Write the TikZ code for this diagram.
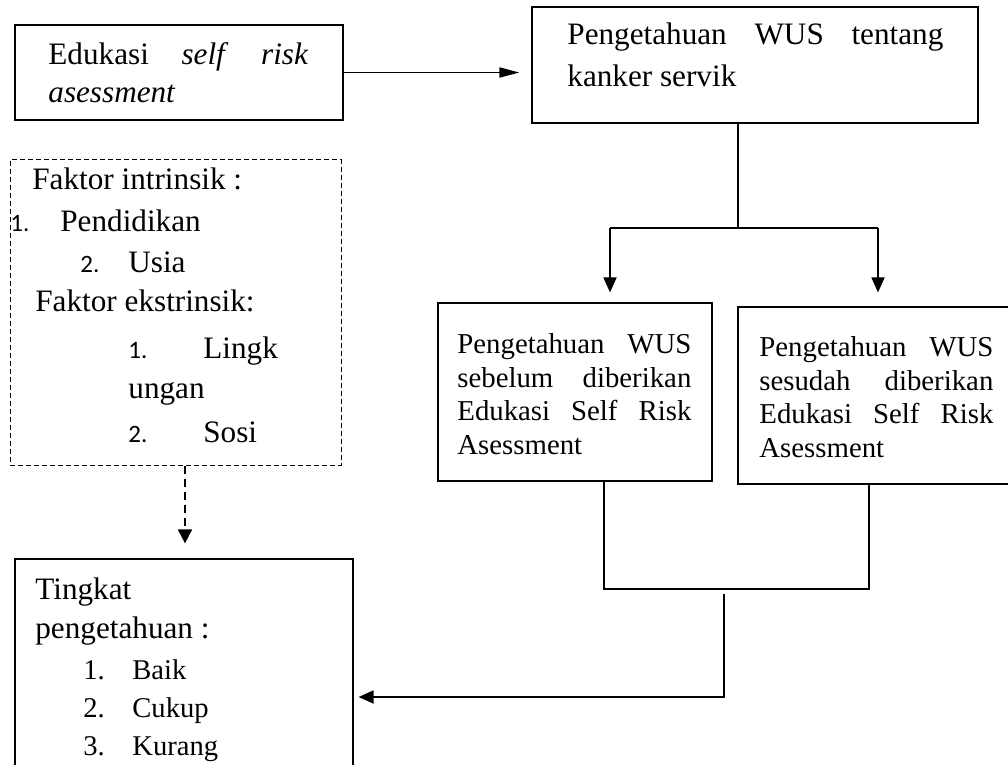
\documentclass[tikz,border=0pt]{standalone}
\usepackage{fontspec}
\setmainfont{Liberation Serif}
\newfontfamily\carl{Carlito}
\usetikzlibrary{arrows.meta,fit}
\newcommand{\fBig}{\fontsize{15.6pt}{18pt}\selectfont}
\newcommand{\fMid}{\fontsize{14.4pt}{17pt}\selectfont}
\newcommand{\fSm}{\fontsize{14.3pt}{16pt}\selectfont}
\newcommand{\fNum}{\carl\fontsize{12.5pt}{14pt}\selectfont}
\begin{document}
\begin{tikzpicture}[x=0.5pt,y=-0.5pt,
  box/.style={draw, line width=0.6pt, inner sep=0pt},
  dbox/.style={draw, line width=0.5pt, dash pattern=on 2.5pt off 1.5pt, inner sep=0pt},
  ln/.style={anchor=base west, inner sep=0pt},
  conn/.style={line width=0.9pt},
  arr/.style={conn, -{Triangle[length=7.5pt,width=6.5pt]}},
  arrbig/.style={conn, -{Triangle[length=10pt,width=5pt]}},
  darr/.style={conn, dash pattern=on 4pt off 2.5pt, -{Triangle[length=7pt,width=7pt]}}]
\clip (0,0) rectangle (1008,765);
% boxes
\node[box, fit={(15,25)(343,120)}] (A) {};
\node[box, fit={(532,7)(978,123)}] (B) {};
\node[dbox, fit={(10,160)(341,465)}] (F) {};
\node[box, fit={(438,303)(712,481)}] (C) {};
\node[box, fit={(738,307)(1016,484)}] (D) {};
\node[box, fit={(15,559)(353,800)}] (E) {};
% texts A
\node[ln, font=\fBig] (a1) at (48,65) {\makebox[130pt][s]{Edukasi \textit{self} \textit{risk}}};
\node[ln, font=\fBig] (a2) at (48,103) {\textit{asessment}};
% texts B
\node[ln, font=\fBig] (b1) at (567,45) {\makebox[188pt][s]{Pengetahuan WUS tentang}};
\node[ln, font=\fBig] (b2) at (567,87) {kanker servik};
% texts F
\node[ln, font=\fBig] (f1) at (32,190) {Faktor intrinsik :};
\node[ln, font=\fNum] (f2n) at (10,232) {1.};
\node[ln, font=\fBig] (f2) at (60,232) {Pendidikan};
\node[ln, font=\fNum] (f3n) at (80,272) {2.};
\node[ln, font=\fBig] (f3) at (128,272) {Usia};
\node[ln, font=\fBig] (f4) at (35,312) {Faktor ekstrinsik:};
\node[ln, font=\fNum] (f5n) at (128,358) {1.};
\node[ln, font=\fBig] (f5) at (203,358) {Lingk};
\node[ln, font=\fBig] (f6) at (128,398) {ungan};
\node[ln, font=\fNum] (f7n) at (128,442) {2.};
\node[ln, font=\fBig] (f7) at (203,442) {Sosi};
% texts C
\node[ln, font=\fMid] (c1) at (457,353) {\makebox[117pt][s]{Pengetahuan WUS}};
\node[ln, font=\fMid] (c2) at (457,387) {\makebox[117pt][s]{sebelum diberikan}};
\node[ln, font=\fMid] (c3) at (457,420) {\makebox[117pt][s]{Edukasi Self Risk}};
\node[ln, font=\fMid] (c4) at (457,454) {Asessment};
% texts D
\node[ln, font=\fMid] (d1) at (759,357) {\makebox[117pt][s]{Pengetahuan WUS}};
\node[ln, font=\fMid] (d2) at (759,390) {\makebox[117pt][s]{sesudah diberikan}};
\node[ln, font=\fMid] (d3) at (759,423) {\makebox[117pt][s]{Edukasi Self Risk}};
\node[ln, font=\fMid] (d4) at (759,457) {Asessment};
% texts E
\node[ln, font=\fBig] (e1) at (35,599) {Tingkat};
\node[ln, font=\fBig] (e2) at (35,638) {pengetahuan :};
\node[ln, font=\fSm] (e3n) at (83,679) {1.};
\node[ln, font=\fSm] (e3) at (132,679) {Baik};
\node[ln, font=\fSm] (e4n) at (83,717) {2.};
\node[ln, font=\fSm] (e4) at (132,717) {Cukup};
\node[ln, font=\fSm] (e5n) at (83,755) {3.};
\node[ln, font=\fSm] (e5) at (132,755) {Kurang};
% connectors
\draw[arrbig, shorten >=6pt] (A.east) -- (A.east -| B.west);
\coordinate (j) at (738,228);
\coordinate (sl) at (610,228);
\coordinate (sr) at (878,228);
\draw[conn] (B.south -| j) -- (j);
\draw[conn] (sl) -- (sr);
\draw[arr, shorten >=5pt] (sl) -- (sl |- C.north);
\draw[arr, shorten >=7pt] (sr) -- (sr |- D.north);
\coordinate (bl) at (604,589);
\coordinate (br) at (869,589);
\draw[conn] (bl |- C.south) -- (bl) -- (br) -- (br |- D.south);
\coordinate (m) at (724,594);
\coordinate (k) at (724,697);
\draw[arr, shorten >=2.5pt] (m) -- (k) -- (k -| E.east);
\coordinate (dx) at (185,465);
\draw[darr, shorten >=7.5pt] (F.south -| dx) -- (dx |- E.north);
\end{tikzpicture}
\end{document}
